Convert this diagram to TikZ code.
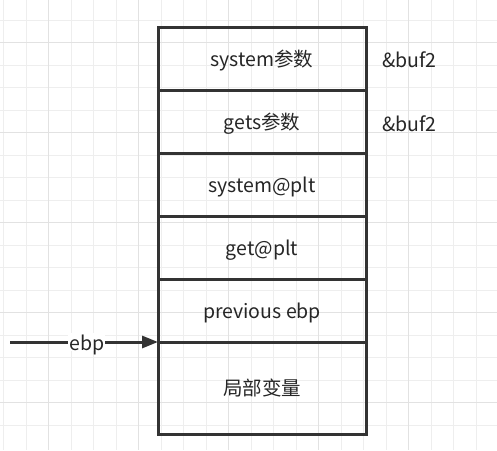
\documentclass[tikz,border=0pt]{standalone}
\usepackage{fontspec}
\setmainfont{Noto Sans CJK SC}
\usetikzlibrary{arrows.meta}
\definecolor{ink}{HTML}{333333}
\definecolor{txt}{HTML}{262626}
\definecolor{gridminor}{HTML}{EEEEEE}
\definecolor{gridmajor}{HTML}{E2E2E2}
\begin{document}
\begin{tikzpicture}[x=1pt,y=-1pt,
  lbl/.style={font=\fontsize{19.5}{21}\selectfont,text=txt},
  cell/.style={draw=ink,line width=3pt,minimum width=208pt,minimum height=#1,
    anchor=north west,outer sep=0pt,inner sep=0pt,lbl,text height=15.5pt,text depth=0pt},
  side/.style={anchor=west,inner sep=0pt,lbl},
  ptr/.style={draw=ink,line width=3pt,-{Triangle[length=16pt,width=12pt]}}]
\useasboundingbox (0,0) rectangle (497,450);
\fill[white] (0,0) rectangle (497,450);
% grid
\foreach \i in {0,...,21} {
  \pgfmathsetmacro{\gx}{3.8+22.5*\i}
  \draw[gridminor,line width=1pt] (\gx,0) -- (\gx,450);
}
\foreach \i in {0,...,19} {
  \pgfmathsetmacro{\gy}{-2.3+22.5*\i}
  \draw[gridminor,line width=1pt] (0,\gy) -- (497,\gy);
}
\foreach \i in {0,...,5} {
  \pgfmathsetmacro{\gx}{48.8+90*\i}
  \draw[gridmajor,line width=1pt] (\gx,0) -- (\gx,450);
}
\foreach \i in {0,...,4} {
  \pgfmathsetmacro{\gy}{42.7+90*\i}
  \draw[gridmajor,line width=1pt] (0,\gy) -- (497,\gy);
}
% stack
\node[cell=63pt] (r1) at (158,27) {system参数};
\node[cell=63pt] (r2) at (r1.south west) {gets参数};
\node[cell=63pt] (r3) at (r2.south west) {system@plt};
\node[cell=63pt] (r4) at (r3.south west) {get@plt};
\node[cell=63pt] (r5) at (r4.south west) {previous ebp};
\node[cell=92pt] (r6) at (r5.south west) {局部变量};
% side labels
\node[side] (b1) at (382,60) {\&buf2};
\node[side] (b2) at (382,124) {\&buf2};
% ebp pointer
\coordinate (src) at (10,342);
\draw[ptr] (src) -- node[pos=0.52,fill=white,inner xsep=1pt,inner ysep=0pt,lbl,text height=17pt,text depth=1pt] (elbl) {ebp} (r6.north west);
\end{tikzpicture}
\end{document}
